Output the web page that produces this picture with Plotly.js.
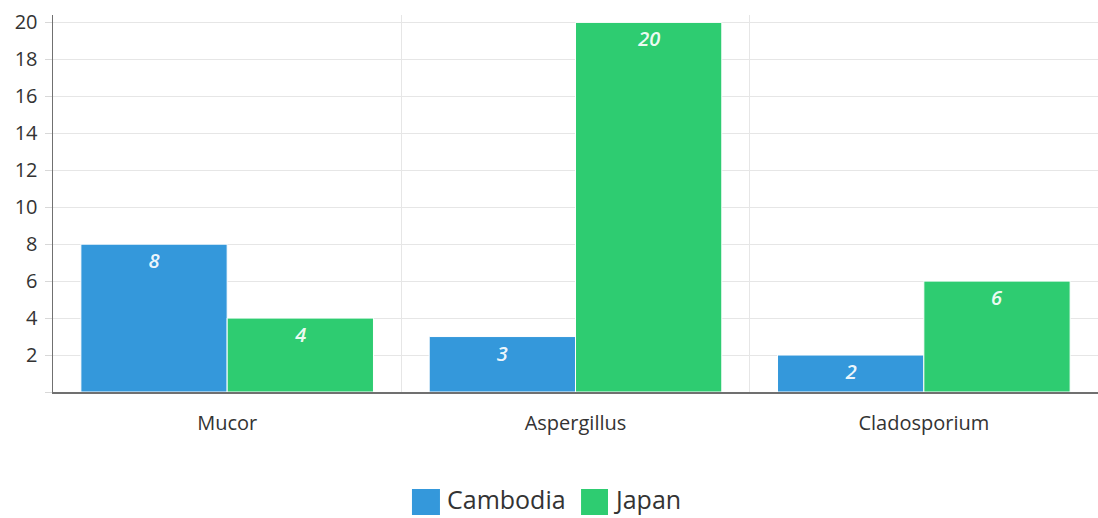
<!DOCTYPE html>
<html>
<head>
<meta charset="utf-8">
<script src="https://cdn.plot.ly/plotly-3.0.1.min.js"></script>
<style>
  html, body { margin: 0; padding: 0; background: #fff; }
  #chart { width: 1098px; height: 518px; }
</style>
</head>
<body>
<div id="chart"></div>
<script>
// Fungal genera counted per country
const genera = ['Mucor', 'Aspergillus', 'Cladosporium'];
const seriesNames = ['Cambodia', 'Japan'];
const cambodia = [8, 3, 2];
const japan = [4, 20, 6];
const yTicks = [0, 2, 4, 6, 8, 10, 12, 14, 16, 18, 20];
const yTickText = ['', '2', '4', '6', '8', '10', '12', '14', '16', '18', '20'];

const font = 'Open Sans, sans-serif';
const colors = ['#3498db', '#2ecc71'];

function series(name, values, color) {
  return {
    type: 'bar',
    name: name,
    x: genera,
    y: values,
    text: values.map(String),
    textposition: 'inside',
    insidetextanchor: 'end',
    textangle: 0,
    textfont: { family: font, size: 20, color: 'rgba(255,255,255,0.93)', style: 'italic', weight: 600 },
    marker: { color: color, line: { color: '#ffffff', width: 1 } },
    showlegend: false,
    hoverinfo: 'x+y+name'
  };
}

const data = [
  series(seriesNames[0], cambodia, colors[0]),
  series(seriesNames[1], japan, colors[1])
];

// Legend row under the plot: a square swatch followed by the series name
const legendSwatches = [[0.3435, 0.3703], [0.5053, 0.5311]];
const legendTextX = [0.3761, 0.5359];
const shapes = seriesNames.map((n, i) => ({
  type: 'rect', xref: 'paper', yref: 'paper',
  x0: legendSwatches[i][0], x1: legendSwatches[i][1],
  y0: -0.2573, y1: -0.3263,
  fillcolor: colors[i], line: { width: 0 }
}));
const annotations = seriesNames.map((n, i) => ({
  xref: 'paper', yref: 'paper',
  x: legendTextX[i], y: -0.284,
  xanchor: 'left', yanchor: 'middle',
  borderpad: 0,
  text: n, showarrow: false,
  font: { family: font, size: 25, color: '#333333' }
}));

const layout = {
  width: 1098,
  height: 518,
  margin: { l: 53, r: 0, t: 15, b: 126 },
  paper_bgcolor: '#ffffff',
  plot_bgcolor: '#ffffff',
  font: { family: font, color: '#333333' },
  barmode: 'group',
  bargap: 0.16,
  bargroupgap: 0,
  showlegend: false,
  shapes: shapes,
  annotations: annotations,
  xaxis: {
    type: 'category',
    tickson: 'boundaries',
    ticks: '',
    showgrid: true,
    gridcolor: '#e6e6e6',
    showline: true,
    linecolor: '#707070',
    linewidth: 1.5,
    ticklabelstandoff: 12,
    tickfont: { family: font, size: 20, color: '#333333' },
    fixedrange: true
  },
  yaxis: {
    range: [0, 20.4],
    tickmode: 'array',
    tickvals: yTicks,
    ticktext: yTickText,
    ticks: 'outside',
    ticklen: 7,
    tickcolor: '#d8d8d8',
    ticklabelstandoff: 3,
    showgrid: true,
    gridcolor: '#e6e6e6',
    showline: true,
    linecolor: '#707070',
    linewidth: 1.5,
    zeroline: false,
    tickfont: { family: font, size: 20, color: '#333333' },
    fixedrange: true
  }
};

Plotly.newPlot('chart', data, layout, { displayModeBar: false, staticPlot: true });
</script>
</body>
</html>
